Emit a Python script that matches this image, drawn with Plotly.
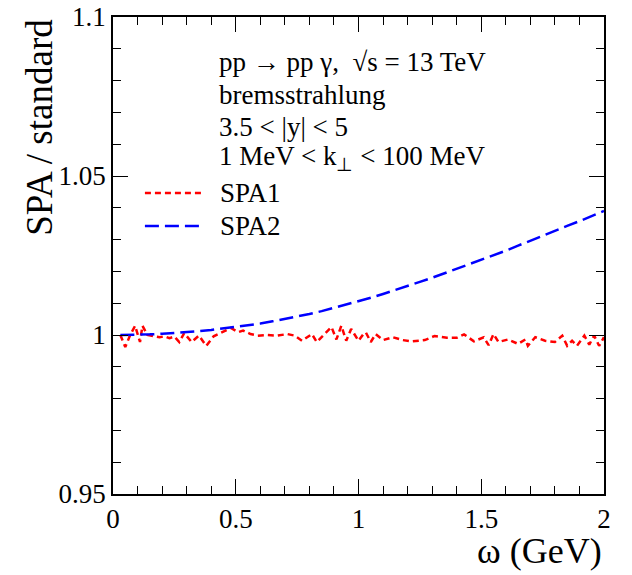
import plotly.graph_objects as go

# SPA1 / standard ratio (red, short dashes)
omega_spa1 = [0.03, 0.05, 0.07, 0.09, 0.11, 0.12, 0.14, 0.17, 0.19, 0.21, 0.23, 0.25,
              0.27, 0.29, 0.32, 0.35, 0.38, 0.41, 0.45, 0.48, 0.51, 0.53, 0.56, 0.59,
              0.63, 0.67, 0.71, 0.74, 0.77, 0.81, 0.83, 0.86, 0.89, 0.91, 0.93, 0.95,
              0.97, 1.00, 1.02, 1.03, 1.05, 1.07, 1.10, 1.14, 1.18, 1.22, 1.27, 1.31,
              1.36, 1.40, 1.43, 1.47, 1.51, 1.53, 1.55, 1.57, 1.61, 1.65, 1.68, 1.69,
              1.72, 1.76, 1.80, 1.83, 1.85, 1.87, 1.89, 1.92, 1.94, 1.96, 1.98, 2.00]
ratio_spa1 = [1.0000, 0.9962, 1.0000, 1.0029, 0.9978, 1.0029, 1.0000, 0.9997, 0.9993, 0.9996,
              0.9990, 0.9995, 0.9978, 1.0006, 0.9978, 0.9998, 0.9966, 0.9996, 1.0011, 1.0022,
              1.0009, 1.0014, 1.0003, 0.9998, 1.0000, 0.9998, 1.0003, 0.9998, 0.9982, 1.0003,
              0.9978, 1.0003, 1.0025, 0.9986, 1.0029, 0.9982, 1.0019, 0.9982, 1.0003, 1.0008,
              0.9978, 1.0003, 0.9984, 0.9993, 0.9984, 0.9980, 0.9984, 0.9997, 0.9991, 0.9991,
              1.0002, 0.9980, 0.9993, 0.9968, 1.0003, 0.9978, 0.9986, 0.9972, 0.9986, 0.9966,
              0.9993, 0.9982, 0.9978, 0.9998, 0.9966, 0.9982, 0.9966, 0.9998, 0.9970, 0.9998,
              0.9966, 0.9993]

# SPA2 / standard ratio (blue, long dashes)
omega_spa2 = [0.03, 0.05, 0.10, 0.15, 0.20, 0.25, 0.30, 0.35, 0.40, 0.45, 0.50, 0.55,
              0.60, 0.65, 0.70, 0.75, 0.80, 0.85, 0.90, 0.95, 1.00, 1.05, 1.10, 1.15,
              1.20, 1.25, 1.30, 1.35, 1.40, 1.45, 1.50, 1.55, 1.60, 1.65, 1.70, 1.75,
              1.80, 1.85, 1.90, 1.95, 2.00]
ratio_spa2 = [1.0000, 1.0000, 1.0001, 1.0002, 1.0004, 1.0006, 1.0009, 1.0012, 1.0016, 1.0021,
              1.0026, 1.0030, 1.0036, 1.0043, 1.0050, 1.0058, 1.0066, 1.0075, 1.0085, 1.0095,
              1.0106, 1.0117, 1.0129, 1.0141, 1.0154, 1.0167, 1.0180, 1.0194, 1.0208, 1.0222,
              1.0236, 1.0250, 1.0265, 1.0281, 1.0297, 1.0312, 1.0328, 1.0343, 1.0358, 1.0373,
              1.0390]

series_names = ["SPA1", "SPA2"]
series_colors = ["#ff0000", "#0000ff"]
series_dash = ["6px,4px", "14px,6px"]

info_lines = [
    "pp \u2192 pp \u03b3,  \u221as = 13 TeV",
    "bremsstrahlung",
    "3.5 < |y| < 5",
    "1 MeV < k<sub>\u22a5</sub> < 100 MeV",
]

FONT = "Liberation Serif"

fig = go.Figure()
for xs, ys, name, col, dash in [
    (omega_spa1, ratio_spa1, series_names[0], series_colors[0], series_dash[0]),
    (omega_spa2, ratio_spa2, series_names[1], series_colors[1], series_dash[1]),
]:
    fig.add_trace(go.Scatter(x=xs, y=ys, mode="lines", name=name, showlegend=False,
                             line=dict(color=col, width=2.5, dash=dash)))

axis_common = dict(
    showline=True, linecolor="black", linewidth=1.5, mirror="allticks",
    ticks="inside", ticklen=15, tickwidth=1.2, tickcolor="black",
    showgrid=False, zeroline=False, automargin=False,
    tickfont=dict(family=FONT, size=27, color="black"),
)

fig.update_xaxes(range=[0, 2], dtick=0.5, tick0=0,
                 minor=dict(dtick=0.1, ticks="inside", ticklen=8, tickcolor="black", showgrid=False),
                 **axis_common)
fig.update_yaxes(range=[0.95, 1.1], dtick=0.05, tick0=0.95,
                 minor=dict(dtick=0.01, ticks="inside", ticklen=8, tickcolor="black", showgrid=False),
                 **axis_common)

annotations = []
# header text block
info_y = [0.906, 0.836, 0.769, 0.704]
for txt, yy in zip(info_lines, info_y):
    annotations.append(dict(x=0.212, y=yy, xref="paper", yref="paper", text=txt,
                            showarrow=False, xanchor="left", yanchor="middle",
                            font=dict(family=FONT, size=27, color="black")))

# legend entries
legend_y = [0.631, 0.562]
shapes = []
for name, col, dash, yy in zip(series_names, series_colors, series_dash, legend_y):
    shapes.append(dict(type="line", xref="paper", yref="paper", x0=0.065, x1=0.187,
                       y0=yy, y1=yy, line=dict(color=col, width=2.5, dash=dash)))
    annotations.append(dict(x=0.214, y=yy, xref="paper", yref="paper", text=name,
                            showarrow=False, xanchor="left", yanchor="middle",
                            font=dict(family=FONT, size=27, color="black")))

# axis titles, placed at the axis ends
annotations.append(dict(x=-0.150, y=1.0, xref="paper", yref="paper", text="SPA / standard",
                        textangle=-90, showarrow=False, xanchor="center", yanchor="top",
                        font=dict(family=FONT, size=37, color="black")))
annotations.append(dict(x=1.0, y=-0.12, xref="paper", yref="paper", text="\u03c9 (GeV)",
                        showarrow=False, xanchor="right", yanchor="middle",
                        font=dict(family=FONT, size=36, color="black")))

fig.update_layout(
    width=632, height=575,
    margin=dict(l=113, r=28, t=17, b=81),
    paper_bgcolor="white", plot_bgcolor="white",
    annotations=annotations, shapes=shapes,
    font=dict(family=FONT, color="black"),
)

fig.write_html("out.html")
